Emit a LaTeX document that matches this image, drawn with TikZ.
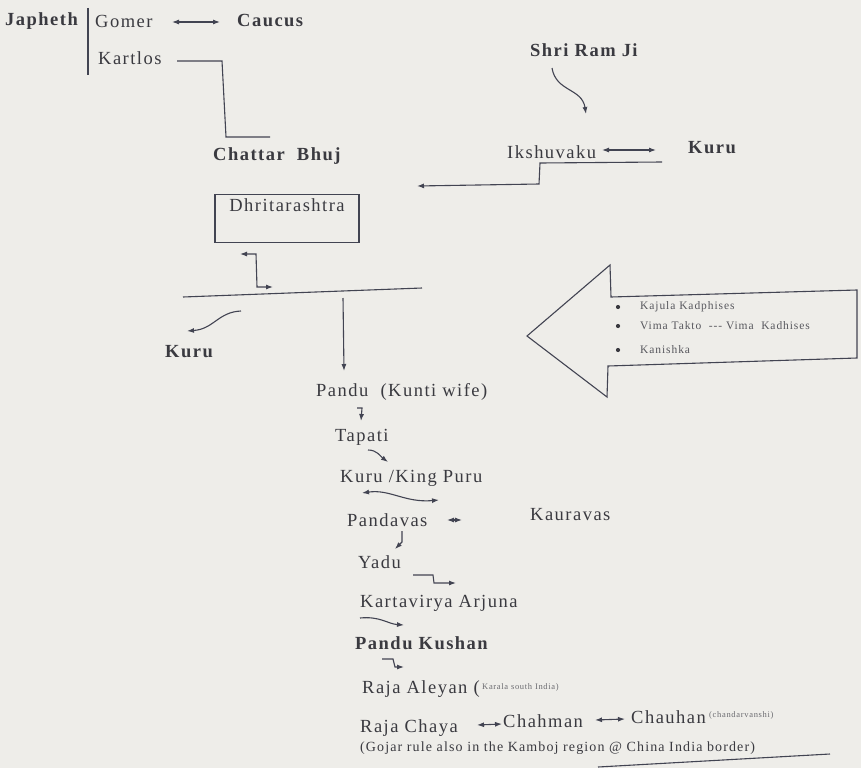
\documentclass[tikz,border=0pt]{standalone}
\usepackage{fontspec}
\setmainfont{Liberation Serif}[LetterSpace=8]
\usetikzlibrary{arrows.meta}
\definecolor{paper}{RGB}{238,237,233}
\definecolor{ink}{RGB}{58,58,64}
\definecolor{wire}{RGB}{66,68,82}
\tikzset{
  person/.style={anchor=west,inner sep=0pt,text=ink,font=\fontsize{18.5}{21}\selectfont},
  chief/.style={person,font=\fontsize{18.5}{21}\selectfont\bfseries},
  note/.style={anchor=west,inner sep=0pt,text=ink!75,font=\fontsize{8.5}{9}\selectfont},
  item/.style={anchor=west,inner sep=0pt,text=ink!85,font=\fontsize{11.5}{13}\selectfont},
  link/.style={wire,line width=1.1pt,-{Latex[length=7pt,width=5pt]}},
  twoway/.style={wire,line width=1.1pt,{Latex[length=7pt,width=5pt]}-{Latex[length=7pt,width=5pt]}},
}
\begin{document}
\begin{tikzpicture}[x=1pt,y=-1pt]
\useasboundingbox[fill=paper] (0,0) rectangle (861,768);
% top left
\node[chief] (japheth) at (5,21) {Japheth};
\node[person] (gomer) at (95,21) {Gomer};
\node[chief] (caucus) at (237,20) {Caucus};
\node[person] (kartlos) at (98,58) {Kartlos};
\node[chief] (chattar) at (213,156) {Chattar\ \ Bhuj};
\coordinate (jtop) at (88,8);
\coordinate (jbot) at (88,75);
\coordinate (g1) at (172,22);
\coordinate (g2) at (220,22);
\coordinate (k1) at (177,61);
\coordinate (k2) at (222,61);
\coordinate (k3) at (226,137);
\coordinate (k4) at (270,137);
\draw[wire,line width=1.1pt] (jtop) -- (jbot);
\draw[twoway] (g1) -- (g2);
\draw[wire,line width=1.1pt] (k1) -- (k2) -- (k3) -- (k4);
% top right
\node[chief] (shriram) at (530,50) {Shri Ram Ji};
\node[person] (ikshu) at (507,152) {Ikshuvaku};
\node[chief] (kurutop) at (688,148) {Kuru};
\coordinate (s1) at (552,68);
\coordinate (s2) at (586,114);
\coordinate (i1) at (602,150);
\coordinate (i2) at (656,150);
\coordinate (r1) at (662,162);
\coordinate (r2) at (540,163);
\coordinate (r3) at (539,184);
\coordinate (r4) at (417,186);
\draw[link] (s1) .. controls (556,92) and (582,88) .. (s2);
\draw[twoway] (i1) -- (i2);
\draw[link] (r1) -- (r2) -- (r3) -- (r4);
% Dhritarashtra
\node[person,anchor=north,draw=wire,line width=1.1pt,minimum width=144,minimum height=48,
  inner ysep=5pt,text height=12pt,text depth=26pt] (dhrit) at (287,194) {Dhritarashtra};
\node[chief] (kuruleft) at (165,352) {Kuru};
\coordinate (d1) at (240,254);
\coordinate (d2) at (256,254);
\coordinate (d3) at (257,287);
\coordinate (d4) at (273,287);
\coordinate (h1) at (183,297);
\coordinate (h2) at (422,288);
\coordinate (v1) at (343,298);
\coordinate (v2) at (344,371);
\coordinate (c1) at (241,311);
\coordinate (c2) at (187,331);
\draw[twoway] (d1) -- (d2) -- (d3) -- (d4);
\draw[wire,line width=1.1pt] (h1) -- (h2);
\draw[link] (v1) -- (v2);
\draw[link] (c1) .. controls (218,312) and (214,329) .. (c2);
% Kushan arrow
\draw[wire,line width=1.1pt] (527,336) -- (610,265) -- (611,297) -- (857,290) -- (857,358)
  -- (608,366) -- (607,397) -- cycle;
\node[item] (kajula) at (640,307) {Kajula Kadphises};
\node[item] (vima) at (640,326) {Vima Takto\ \ {-}{-}{-} Vima\ \ Kadhises};
\node[item] (kanishka) at (640,350) {Kanishka};
\foreach \p in {kajula,vima,kanishka}
  \fill[ink] ([xshift=-22pt]\p.west) circle (2.1pt);
% line of descent
\node[person] (pandu) at (316,392) {Pandu\ \ (Kunti wife)};
\node[person] (tapati) at (335,437) {Tapati};
\node[person] (kuruking) at (340,478) {Kuru /King Puru};
\node[person] (pandavas) at (347,520) {Pandavas};
\node[person] (kauravas) at (530,515) {Kauravas};
\node[person] (yadu) at (358,562) {Yadu};
\node[person] (karta) at (360,603) {Kartavirya Arjuna};
\node[chief] (kushan) at (355,643) {Pandu Kushan};
\node[person] (aleyan) at (362,689) {Raja Aleyan (};
\node[note] (kerala) at (482,687) {Karala south India)};
\node[person] (chaya) at (360,728) {Raja Chaya};
\node[person] (chahman) at (503,721) {Chahman};
\node[person] (chauhan) at (631,717) {Chauhan};
\node[note] (chandar) at (709,715) {(chandarvanshi)};
\node[person,font=\fontsize{14}{16}\selectfont] (gojar) at (360,748)
  {(Gojar rule also in the Kamboj region @ China India border)};
\coordinate (p1) at (357,408);
\coordinate (p2) at (362,408);
\coordinate (p3) at (361,421);
\coordinate (t1) at (368,450);
\coordinate (t2) at (388,462);
\coordinate (w1) at (362,493);
\coordinate (w2) at (439,500);
\coordinate (a1) at (447,520);
\coordinate (a2) at (462,520);
\coordinate (y1) at (402,531);
\coordinate (y2) at (402,542);
\coordinate (y3) at (395,549);
\coordinate (e1) at (413,575);
\coordinate (e2) at (433,575);
\coordinate (e3) at (434,583);
\coordinate (e4) at (456,583);
\coordinate (q1) at (360,618);
\coordinate (q2) at (404,625);
\coordinate (u1) at (382,659);
\coordinate (u2) at (393,659);
\coordinate (u3) at (395,667);
\coordinate (u4) at (404,667);
\coordinate (b1) at (477,725);
\coordinate (b2) at (502,724);
\coordinate (b3) at (595,720);
\coordinate (b4) at (625,719);
\coordinate (l1) at (598,767);
\coordinate (l2) at (830,754);
\draw[link] (p1) -- (p2) -- (p3);
\draw[link] (t1) .. controls (377,450) and (380,456) .. (t2);
\draw[twoway] (w1) .. controls (390,489) and (405,503) .. (w2);
\draw[twoway] (a1) -- (a2);
\draw[link] (y1) -- (y2) -- (y3);
\draw[link] (e1) -- (e2) -- (e3) -- (e4);
\draw[link] (q1) .. controls (380,616) and (388,624) .. (q2);
\draw[link] (u1) -- (u2) -- (u3) -- (u4);
\draw[twoway] (b1) -- (b2);
\draw[twoway] (b3) -- (b4);
\draw[wire,line width=1.1pt] (l1) -- (l2);
\end{tikzpicture}
\end{document}
